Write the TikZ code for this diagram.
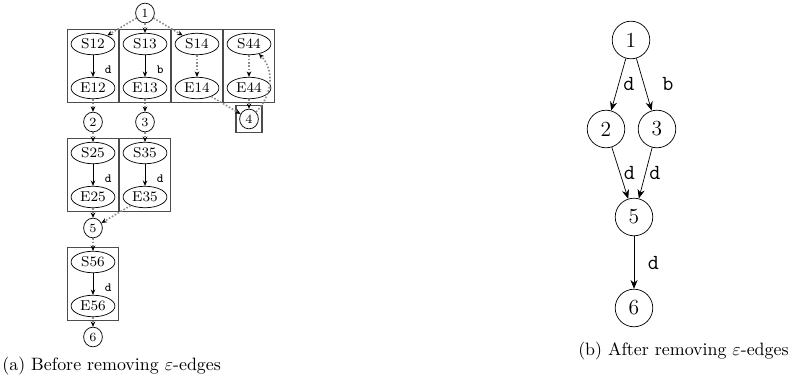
\documentclass[tikz,border=0pt]{standalone}
\usepackage{xcolor}
\usepackage{tikz}
\usetikzlibrary{positioning}
\usetikzlibrary{arrows.meta,shapes}
\usetikzlibrary{fit}
\tikzstyle{state}=[ellipse,draw,minimum width=24.5pt,minimum height=12pt,inner sep=0pt,font=\footnotesize]
\tikzstyle{smallstate}=[ellipse,draw,minimum width=10.5pt,minimum height=11pt,inner sep=0pt,font=\scriptsize]
\tikzstyle{bigstate}=[circle,draw,minimum size=21pt,inner sep=0pt,font=\large]
\tikzstyle{cluster}=[rectangle,draw=black!70,line width=0.8pt,inner sep=1.8pt]
\tikzstyle{edge}=[draw,-{Stealth[length=3pt,width=2.5pt]}]
\tikzstyle{epsedge}=[draw=black!45,densely dotted,line width=0.9pt,-{Stealth[length=3pt,width=2.6pt,black]}]
\tikzstyle{bigedge}=[draw,-{Stealth[length=5pt,width=4pt]}]
\tikzstyle{weight}=[font=\scriptsize\ttfamily,inner sep=1pt]
\tikzstyle{bigweight}=[font=\large\ttfamily,inner sep=2pt]
\tikzset{caption/.style={inner sep=0pt}}

\begin{document}
\begin{tikzpicture}[x=0.5587pt,y=-0.5587pt]

  \useasboundingbox (0,0) rectangle (792,387);

% (a) before
   \foreach \x/\y/\name/\label in {145/13/a1/1, 93/122/a2/2, 145/122/a3/3, 249/119/a4/4, 93/228/a5/5, 93/337/a6/6}
          \node[smallstate] (\name) at (\x,\y) {\label};

   \foreach \x/\y/\name in {93/44/S12, 93/88/E12, 145/44/S13, 145/88/E13, 197/44/S14, 197/88/E14, 249/44/S44, 249/88/E44}
          \node[state] (\name) at (\x,\y) {\name};

   \foreach \x/\y/\name in {93/153/S25, 93/197/E25, 145/153/S35, 145/197/E35, 93/262/S56, 93/306/E56}
          \node[state] (\name) at (\x,\y) {\name};

   \foreach \s/\e in {S12/E12, S13/E13, S14/E14, S44/E44, S25/E25, S35/E35, S56/E56}
          \node[cluster, fit=(\s)(\e)] (box\s) {};
   \node[cluster, fit=(a4)] (boxa4) {};

  \foreach \source/ \dest /\weight in {S12/E12/d, S13/E13/b, S25/E25/d, S35/E35/d, S56/E56/d}
         \path[edge] (\source) -- node[weight,pos=0.65,right=5.5pt] {\weight} (\dest);

  \foreach \source/ \dest in {a1/S12, a1/S13, a1/S14, S14/E14, S44/E44, E14/a4, E44/a4, E12/a2, E13/a3, a2/S25, a3/S35, E25/a5, E35/a5, a5/S56, E56/a6}
         \path[epsedge] (\source) -- (\dest);
  \path[epsedge] (a4) to[out=45,in=-45] (S44);

% (b) after
   \foreach \x/\y/\name/\label in {631/40/b1/1, 606/129/b2/2, 657/129/b3/3, 634/217/b5/5, 634/308/b6/6}
          \node[bigstate] (\name) at (\x,\y) {\label};

  \path[bigedge] (b1) -- node[bigweight,right=0.5pt] {d} (b2);
  \path[bigedge] (b1) -- node[bigweight,right=8pt] {b} (b3);
  \path[bigedge] (b2) -- node[bigweight,right=0pt] {d} (b5);
  \path[bigedge] (b3) -- node[bigweight,right=0pt] {d} (b5);
  \path[bigedge] (b5) -- node[bigweight,right=5.5pt] {d} (b6);

%captions
  \node[caption,anchor=west] (capa) at (2,366) {(a) Before removing $\varepsilon$-edges};
  \node[caption,anchor=east] (capb) at (789,351) {(b) After removing $\varepsilon$-edges};

\end{tikzpicture}
\end{document}
